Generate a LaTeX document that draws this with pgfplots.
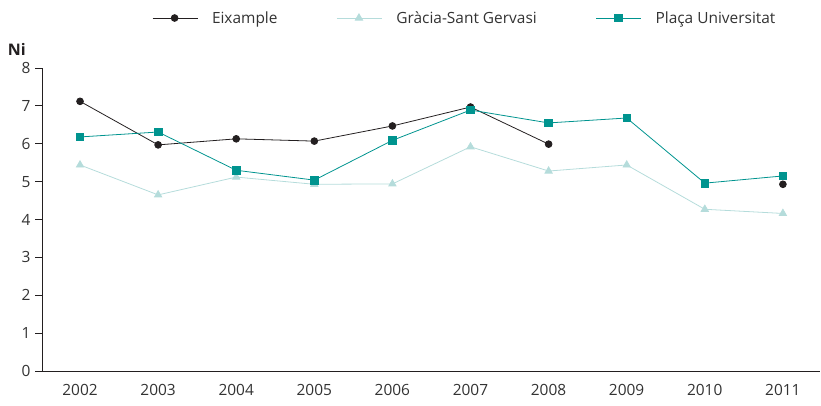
\documentclass[border=0pt]{standalone}
\usepackage{pgfplots}
\pgfplotsset{compat=1.18}
\usepackage{fontspec}
\setmainfont{Open Sans}
\definecolor{eix}{HTML}{231F20}
\definecolor{gra}{HTML}{B5DCDB}
\definecolor{pla}{HTML}{00948F}
\definecolor{txt}{HTML}{333333}
\begin{document}
\begin{tikzpicture}
\useasboundingbox (-42bp,-35bp) rectangle (779bp,371bp);
\begin{axis}[
  scale only axis,
  width=778bp, height=303bp,
  xmin=2001.513, xmax=2011.475,
  ymin=0, ymax=8,
  axis x line*=bottom, axis y line*=left,
  axis line style={draw=eix, line width=0.8pt, -},
  xtick={2002,...,2011},
  x tick label style={/pgf/number format/1000 sep={}},
  xtick style={draw=none},
  ytick={0,...,8},
  ytick style={draw=eix, line width=0.8pt},
  tick align=outside,
  major tick length=7bp,
  tick label style={font=\fontsize{15.5}{18}\selectfont, text=txt},
  /pgf/number format/assume math mode=true,
  xticklabel style={yshift=-3bp},
  yticklabel style={xshift=-1bp},
  unbounded coords=jump,
  legend columns=3,
  legend style={draw=none, fill=none, inner sep=0pt, font=\fontsize{15.5}{18}\selectfont, text=txt,
    at={(axis description cs:0.1414,1.165)}, anchor=west,
    /tikz/every odd column/.append style={column sep=12bp},
    /tikz/every even column/.append style={column sep=57bp}},
  legend cell align=left,
  legend image code/.code={\draw[mark repeat=2,mark phase=2,#1] plot coordinates {(0bp,0bp) (22bp,0bp) (45bp,0bp)};},
  clip=false,
]
\addplot[eix, line width=0.8pt, mark=*, mark size=3.4pt] coordinates {
(2002,7.12) (2003,5.97) (2004,6.13) (2005,6.07) (2006,6.47) (2007,6.97) (2008,5.99) (2009,nan) (2010,nan) (2011,4.93)};
\addlegendentry{Eixample}
\addplot[gra, line width=0.8pt, mark=triangle*, mark size=4.2pt] coordinates {
(2002,5.44) (2003,4.65) (2004,5.12) (2005,4.93) (2006,4.94) (2007,5.92) (2008,5.28) (2009,5.44) (2010,4.27) (2011,4.16)};
\addlegendentry{Gràcia-Sant Gervasi}
\addplot[pla, line width=0.8pt, mark=square*, mark size=3.8pt] coordinates {
(2002,6.18) (2003,6.31) (2004,5.30) (2005,5.04) (2006,6.09) (2007,6.89) (2008,6.55) (2009,6.68) (2010,4.96) (2011,5.15)};
\addlegendentry{Plaça Universitat}
\node[anchor=south west, font=\bfseries\fontsize{16}{18}\selectfont, text=eix, inner sep=0pt] at (axis description cs:-0.044,1.04) {Ni};
\end{axis}
\end{tikzpicture}
\end{document}
